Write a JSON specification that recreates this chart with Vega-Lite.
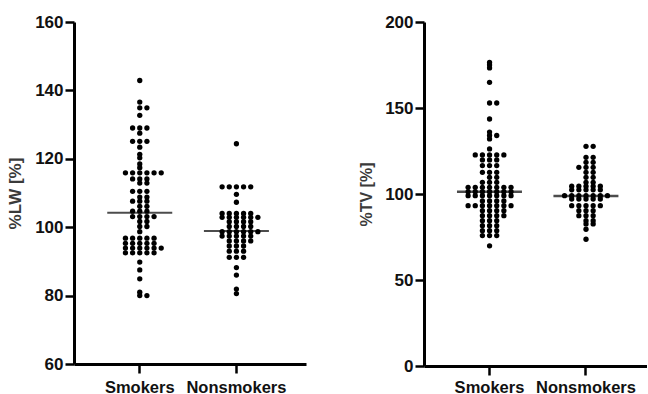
{
"$schema": "https://vega.github.io/schema/vega-lite/v6.json",
"background": "white",
"padding": {"left": 6, "top": 13, "right": 0, "bottom": -2},
"spacing": 52,
"config": {
  "view": {"stroke": null},
  "font": "Liberation Sans",
  "axis": {"grid": false, "domainColor": "#000", "domainWidth": 3, "tickColor": "#000", "tickWidth": 2.5, "labelFont": "Liberation Sans", "labelFontWeight": "bold", "labelFontSize": 17, "labelColor": "#111", "titleFont": "Liberation Sans", "titleFontWeight": "bold", "titleColor": "#3a3a3a"},
  "axisX": {"tickSize": 9, "labelAngle": 0, "title": null, "labelFontSize": 16.5},
  "axisY": {"tickSize": 9, "labelPadding": 2, "titlePadding": 10}
},
"datasets": {
  "lw": [
    {"g":"Smokers","v":142.9},{"g":"Smokers","v":136.6},{"g":"Smokers","v":134.9},{"g":"Smokers","v":134.9},{"g":"Smokers","v":132.7},
    {"g":"Smokers","v":129},{"g":"Smokers","v":129},{"g":"Smokers","v":129},{"g":"Smokers","v":127.5},
    {"g":"Smokers","v":125.1},{"g":"Smokers","v":125.1},{"g":"Smokers","v":125.1},{"g":"Smokers","v":123.4},{"g":"Smokers","v":121.3},
    {"g":"Smokers","v":120.3},{"g":"Smokers","v":118.5},{"g":"Smokers","v":117.4},
    {"g":"Smokers","v":115.9},{"g":"Smokers","v":115.9},{"g":"Smokers","v":115.9},{"g":"Smokers","v":115.9},{"g":"Smokers","v":115.9},{"g":"Smokers","v":115.9},
    {"g":"Smokers","v":114.1},{"g":"Smokers","v":114.1},{"g":"Smokers","v":114.1},
    {"g":"Smokers","v":112.9},{"g":"Smokers","v":112.9},
    {"g":"Smokers","v":110.5},{"g":"Smokers","v":110.5},{"g":"Smokers","v":110.5},
    {"g":"Smokers","v":108.8},{"g":"Smokers","v":108.8},
    {"g":"Smokers","v":107.6},{"g":"Smokers","v":107.6},{"g":"Smokers","v":107.6},
    {"g":"Smokers","v":106.1},{"g":"Smokers","v":106.1},
    {"g":"Smokers","v":104.7},{"g":"Smokers","v":104.7},{"g":"Smokers","v":104.7},
    {"g":"Smokers","v":103.1},{"g":"Smokers","v":103.1},{"g":"Smokers","v":103.1},{"g":"Smokers","v":103.1},
    {"g":"Smokers","v":101.7},{"g":"Smokers","v":101.7},
    {"g":"Smokers","v":100.2},{"g":"Smokers","v":100.2},
    {"g":"Smokers","v":98.7},
    {"g":"Smokers","v":96.8},{"g":"Smokers","v":96.8},{"g":"Smokers","v":96.8},{"g":"Smokers","v":96.8},{"g":"Smokers","v":96.8},
    {"g":"Smokers","v":95.3},{"g":"Smokers","v":95.3},{"g":"Smokers","v":95.3},{"g":"Smokers","v":95.3},{"g":"Smokers","v":95.3},
    {"g":"Smokers","v":93.9},{"g":"Smokers","v":93.9},{"g":"Smokers","v":93.9},{"g":"Smokers","v":93.9},{"g":"Smokers","v":93.9},{"g":"Smokers","v":93.9},
    {"g":"Smokers","v":92.5},{"g":"Smokers","v":92.5},{"g":"Smokers","v":92.5},{"g":"Smokers","v":92.5},{"g":"Smokers","v":92.5},
    {"g":"Smokers","v":89.8},{"g":"Smokers","v":87.5},{"g":"Smokers","v":84.9},{"g":"Smokers","v":81},{"g":"Smokers","v":80},{"g":"Smokers","v":80},
    {"g":"Nonsmokers","v":124.4},
    {"g":"Nonsmokers","v":111.8},{"g":"Nonsmokers","v":111.8},{"g":"Nonsmokers","v":111.8},{"g":"Nonsmokers","v":111.8},{"g":"Nonsmokers","v":111.8},
    {"g":"Nonsmokers","v":109.6},{"g":"Nonsmokers","v":107.3},
    {"g":"Nonsmokers","v":104},{"g":"Nonsmokers","v":104},{"g":"Nonsmokers","v":104},{"g":"Nonsmokers","v":104},{"g":"Nonsmokers","v":104},
    {"g":"Nonsmokers","v":102.9},{"g":"Nonsmokers","v":102.9},{"g":"Nonsmokers","v":102.9},{"g":"Nonsmokers","v":102.9},{"g":"Nonsmokers","v":102.9},{"g":"Nonsmokers","v":102.9},
    {"g":"Nonsmokers","v":101.6},{"g":"Nonsmokers","v":101.6},{"g":"Nonsmokers","v":101.6},{"g":"Nonsmokers","v":101.6},
    {"g":"Nonsmokers","v":100.2},{"g":"Nonsmokers","v":100.2},{"g":"Nonsmokers","v":100.2},{"g":"Nonsmokers","v":100.2},
    {"g":"Nonsmokers","v":98.7},{"g":"Nonsmokers","v":98.7},{"g":"Nonsmokers","v":98.7},{"g":"Nonsmokers","v":98.7},{"g":"Nonsmokers","v":98.7},{"g":"Nonsmokers","v":98.7},
    {"g":"Nonsmokers","v":97.4},{"g":"Nonsmokers","v":97.4},{"g":"Nonsmokers","v":97.4},{"g":"Nonsmokers","v":97.4},{"g":"Nonsmokers","v":97.4},
    {"g":"Nonsmokers","v":96},{"g":"Nonsmokers","v":96},{"g":"Nonsmokers","v":96},{"g":"Nonsmokers","v":96},
    {"g":"Nonsmokers","v":94.5},{"g":"Nonsmokers","v":94.5},{"g":"Nonsmokers","v":94.5},
    {"g":"Nonsmokers","v":93},{"g":"Nonsmokers","v":93},{"g":"Nonsmokers","v":93},
    {"g":"Nonsmokers","v":91.2},{"g":"Nonsmokers","v":91.2},{"g":"Nonsmokers","v":91.2},
    {"g":"Nonsmokers","v":88.2},{"g":"Nonsmokers","v":86},{"g":"Nonsmokers","v":81.9},{"g":"Nonsmokers","v":80.6}
  ],
  "tv": [
    {"g":"Smokers","v":176.5},{"g":"Smokers","v":175},{"g":"Smokers","v":173.3},{"g":"Smokers","v":164.9},
    {"g":"Smokers","v":152.9},{"g":"Smokers","v":152.9},{"g":"Smokers","v":143.6},{"g":"Smokers","v":136},
    {"g":"Smokers","v":134},{"g":"Smokers","v":134},{"g":"Smokers","v":132},{"g":"Smokers","v":126.2},
    {"g":"Smokers","v":122.7},{"g":"Smokers","v":122.7},{"g":"Smokers","v":122.7},{"g":"Smokers","v":122.7},{"g":"Smokers","v":122.7},
    {"g":"Smokers","v":119.8},{"g":"Smokers","v":119.8},{"g":"Smokers","v":119.8},
    {"g":"Smokers","v":116.5},{"g":"Smokers","v":116.5},{"g":"Smokers","v":116.5},
    {"g":"Smokers","v":112.6},{"g":"Smokers","v":112.6},{"g":"Smokers","v":112.6},
    {"g":"Smokers","v":109.7},{"g":"Smokers","v":109.7},
    {"g":"Smokers","v":106.8},{"g":"Smokers","v":106.8},{"g":"Smokers","v":106.8},
    {"g":"Smokers","v":103.9},{"g":"Smokers","v":103.9},{"g":"Smokers","v":103.9},{"g":"Smokers","v":103.9},{"g":"Smokers","v":103.9},{"g":"Smokers","v":103.9},{"g":"Smokers","v":103.9},
    {"g":"Smokers","v":101.3},{"g":"Smokers","v":101.3},{"g":"Smokers","v":101.3},{"g":"Smokers","v":101.3},{"g":"Smokers","v":101.3},{"g":"Smokers","v":101.3},{"g":"Smokers","v":101.3},
    {"g":"Smokers","v":99},{"g":"Smokers","v":99},{"g":"Smokers","v":99},{"g":"Smokers","v":99},{"g":"Smokers","v":99},{"g":"Smokers","v":99},{"g":"Smokers","v":99},
    {"g":"Smokers","v":96},{"g":"Smokers","v":96},{"g":"Smokers","v":96},{"g":"Smokers","v":96},
    {"g":"Smokers","v":93.2},{"g":"Smokers","v":93.2},{"g":"Smokers","v":93.2},{"g":"Smokers","v":93.2},{"g":"Smokers","v":93.2},{"g":"Smokers","v":93.2},{"g":"Smokers","v":93.2},
    {"g":"Smokers","v":90.3},{"g":"Smokers","v":90.3},{"g":"Smokers","v":90.3},{"g":"Smokers","v":90.3},
    {"g":"Smokers","v":87.4},{"g":"Smokers","v":87.4},{"g":"Smokers","v":87.4},{"g":"Smokers","v":87.4},
    {"g":"Smokers","v":84.5},{"g":"Smokers","v":84.5},{"g":"Smokers","v":84.5},
    {"g":"Smokers","v":81.6},{"g":"Smokers","v":81.6},{"g":"Smokers","v":81.6},
    {"g":"Smokers","v":78.7},{"g":"Smokers","v":78.7},{"g":"Smokers","v":78.7},
    {"g":"Smokers","v":75.8},{"g":"Smokers","v":75.8},{"g":"Smokers","v":75.8},
    {"g":"Smokers","v":69.9},
    {"g":"Nonsmokers","v":127.7},{"g":"Nonsmokers","v":127.7},
    {"g":"Nonsmokers","v":121.3},{"g":"Nonsmokers","v":121.3},
    {"g":"Nonsmokers","v":118.4},{"g":"Nonsmokers","v":118.4},
    {"g":"Nonsmokers","v":115.5},{"g":"Nonsmokers","v":115.5},{"g":"Nonsmokers","v":115.5},
    {"g":"Nonsmokers","v":112.6},{"g":"Nonsmokers","v":112.6},
    {"g":"Nonsmokers","v":109.7},{"g":"Nonsmokers","v":109.7},
    {"g":"Nonsmokers","v":106.8},{"g":"Nonsmokers","v":106.8},
    {"g":"Nonsmokers","v":104.5},{"g":"Nonsmokers","v":104.5},{"g":"Nonsmokers","v":104.5},{"g":"Nonsmokers","v":104.5},{"g":"Nonsmokers","v":104.5},
    {"g":"Nonsmokers","v":102.4},{"g":"Nonsmokers","v":102.4},{"g":"Nonsmokers","v":102.4},{"g":"Nonsmokers","v":102.4},{"g":"Nonsmokers","v":102.4},
    {"g":"Nonsmokers","v":99},{"g":"Nonsmokers","v":99},{"g":"Nonsmokers","v":99},{"g":"Nonsmokers","v":99},{"g":"Nonsmokers","v":99},{"g":"Nonsmokers","v":99},{"g":"Nonsmokers","v":99},
    {"g":"Nonsmokers","v":97.1},{"g":"Nonsmokers","v":97.1},{"g":"Nonsmokers","v":97.1},{"g":"Nonsmokers","v":97.1},{"g":"Nonsmokers","v":97.1},
    {"g":"Nonsmokers","v":93.2},{"g":"Nonsmokers","v":93.2},{"g":"Nonsmokers","v":93.2},{"g":"Nonsmokers","v":93.2},{"g":"Nonsmokers","v":93.2},
    {"g":"Nonsmokers","v":90.3},{"g":"Nonsmokers","v":90.3},{"g":"Nonsmokers","v":90.3},
    {"g":"Nonsmokers","v":87.4},{"g":"Nonsmokers","v":87.4},{"g":"Nonsmokers","v":87.4},
    {"g":"Nonsmokers","v":84.5},{"g":"Nonsmokers","v":84.5},
    {"g":"Nonsmokers","v":82.6},{"g":"Nonsmokers","v":82.6},
    {"g":"Nonsmokers","v":79.5},{"g":"Nonsmokers","v":73.7}
  ],
  "lwMean": [{"g":"Smokers","v":104.2},{"g":"Nonsmokers","v":98.9}],
  "tvMean": [{"g":"Smokers","v":101.3},{"g":"Nonsmokers","v":98.8}]
},
"hconcat": [
  {
    "width": 232, "height": 342,
    "layer": [
      {
        "data": {"name": "lw"},
        "transform": [{"window": [{"op": "row_number", "as": "slot"}], "groupby": ["g", "v"]}],
        "mark": {"type": "circle", "size": 28, "color": "#000", "opacity": 1},
        "encoding": {
          "x": {"field": "g", "type": "nominal", "sort": ["Smokers", "Nonsmokers"], "scale": {"paddingInner": 0.26, "paddingOuter": 0.33, "align": 0.47}, "axis": {"labelPadding": 6}},
          "xOffset": {"field": "slot", "type": "nominal", "scale": {"domain": [11, 9, 7, 5, 3, 1, 2, 4, 6, 8, 10], "paddingInner": 0, "paddingOuter": 0}},
          "y": {"field": "v", "type": "quantitative", "scale": {"domain": [60, 160], "nice": false, "zero": false}, "axis": {"values": [60, 80, 100, 120, 140, 160], "title": "%LW [%]", "titleFontSize": 17}}
        }
      },
      {
        "data": {"name": "lwMean"},
        "mark": {"type": "tick", "color": "#000", "thickness": 2, "size": 65},
        "encoding": {
          "x": {"field": "g", "type": "nominal", "sort": ["Smokers", "Nonsmokers"]},
          "y": {"field": "v", "type": "quantitative"}
        }
      }
    ]
  },
  {
    "width": 223, "height": 344,
    "layer": [
      {
        "data": {"name": "tv"},
        "transform": [{"window": [{"op": "row_number", "as": "slot"}], "groupby": ["g", "v"]}],
        "mark": {"type": "circle", "size": 28, "color": "#000", "opacity": 1},
        "encoding": {
          "x": {"field": "g", "type": "nominal", "sort": ["Smokers", "Nonsmokers"], "scale": {"paddingInner": 0.26, "paddingOuter": 0.286, "align": 0.54}, "axis": {"labelPadding": 4}},
          "xOffset": {"field": "slot", "type": "nominal", "scale": {"domain": [11, 9, 7, 5, 3, 1, 2, 4, 6, 8, 10], "paddingInner": 0, "paddingOuter": 0}},
          "y": {"field": "v", "type": "quantitative", "scale": {"domain": [0, 200], "nice": false}, "axis": {"values": [0, 50, 100, 150, 200], "title": "%TV [%]", "titleFontSize": 16}}
        }
      },
      {
        "data": {"name": "tvMean"},
        "mark": {"type": "tick", "color": "#000", "thickness": 2.5, "size": 65},
        "encoding": {
          "x": {"field": "g", "type": "nominal", "sort": ["Smokers", "Nonsmokers"]},
          "y": {"field": "v", "type": "quantitative"}
        }
      }
    ]
  }
]
}
